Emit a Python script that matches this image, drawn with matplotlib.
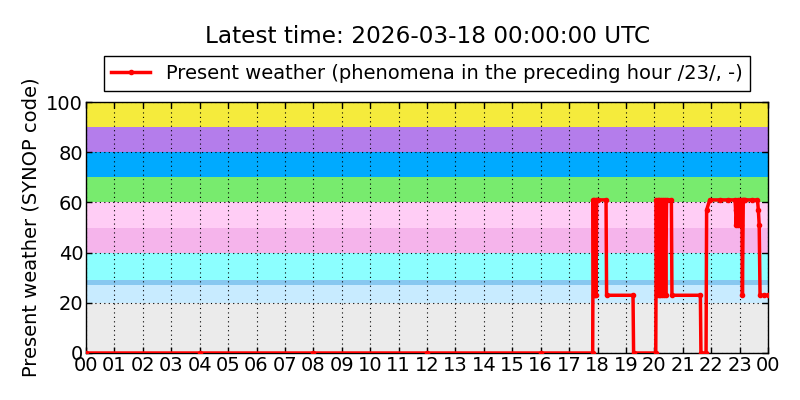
import matplotlib
matplotlib.use("Agg")
import matplotlib.pyplot as plt

# SYNOP present-weather colour bands (lower, upper, colour)
band_low = [0, 20, 27, 29, 40, 50, 60, 70, 80, 90]
band_high = [20, 27, 29, 40, 50, 60, 70, 80, 90, 100]
band_colors = ["#ebebeb", "#c8ebff", "#87c8f0", "#8cffff", "#f5b4eb",
               "#ffcdf5", "#78eb6e", "#00aaff", "#b47deb", "#f5eb3c"]

# observation times (hours since 00 UTC) and reported ww codes
hours = [0.0, 4.0, 8.0, 12.0, 16.0, 17.83,
         17.85, 17.87, 17.89, 17.91, 17.93, 17.95, 17.97, 18.0, 18.3,
         18.32, 19.25, 19.27, 20.05,
         20.07, 20.09, 20.12, 20.15, 20.18, 20.21, 20.25, 20.28, 20.31,
         20.34, 20.37, 20.4, 20.43, 20.6, 20.62, 21.62, 21.64, 21.82,
         21.84, 21.95, 22.3, 22.6, 22.84, 22.86, 22.88, 22.93, 22.96,
         23.0, 23.05, 23.08, 23.1, 23.13, 23.16, 23.2, 23.45, 23.63,
         23.66, 23.69, 23.72, 23.85, 24.0]
ww = [0, 0, 0, 0, 0, 0,
      61, 23, 61, 23, 61, 23, 61, 61, 61,
      23, 23, 0, 0,
      61, 23, 61, 23, 61, 23, 61, 23, 61,
      23, 61, 23, 61, 61, 23, 23, 0, 0,
      57, 61, 61, 61, 61, 57, 51, 61, 51,
      61, 51, 61, 23, 61, 61, 61, 61, 61,
      57, 51, 23, 23, 23]

tick_hours = list(range(0, 25))
tick_labels = ["%02d" % (h % 24) for h in tick_hours]

plt.rcParams["font.family"] = "DejaVu Sans"
fig = plt.figure(figsize=(8, 4), dpi=100)
ax = fig.add_axes([0.1075, 0.1175, 0.8525, 0.6275])

for lo, hi, c in zip(band_low, band_high, band_colors):
    ax.axhspan(lo, hi, color=c, lw=0, zorder=0)

ax.plot(hours, ww, "r.-", lw=2.5, ms=6, zorder=3,
        label="Present weather (phenomena in the preceding hour /23/, -)")

ax.set_xlim(0, 24)
ax.set_ylim(0, 100)
ax.set_xticks(tick_hours)
ax.set_xticklabels(tick_labels)
ax.set_yticks(range(0, 101, 20))
ax.tick_params(direction="in", top=True, right=True, labelsize=14, length=4, width=1, pad=2)
ax.grid(True, color="k", linestyle=(0, (1, 3)), linewidth=0.8)
for s in ax.spines.values():
    s.set_linewidth(1)
ax.set_ylabel("Present weather (SYNOP code)", fontsize=14)

leg = ax.legend(loc="lower center", bbox_to_anchor=(0.5, 1.045), fontsize=14,
                fancybox=False, framealpha=1, borderaxespad=0.0, handlelength=2.0)
leg.get_frame().set_edgecolor("k")

fig.text(0.534, 0.8925, "Latest time: 2026-03-18 00:00:00 UTC", ha="center", fontsize=16.7)

plt.savefig("out.png")
